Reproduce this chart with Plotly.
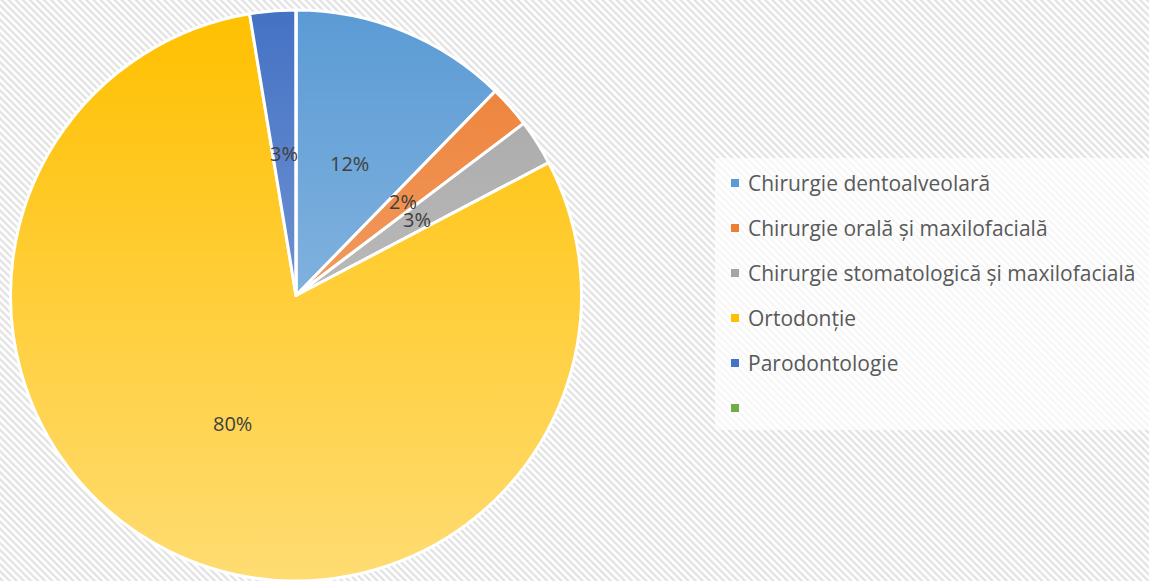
import base64
import math
import plotly.graph_objects as go

# ---- data ----
categories = [
    "Chirurgie dentoalveolară",
    "Chirurgie orală și maxilofacială",
    "Chirurgie stomatologică și maxilofacială",
    "Ortodonție",
    "Parodontologie",
    "",
]
values = [12.3, 2.4, 2.6, 80.1, 2.6, 0.0]
colors = ["#5B9BD5", "#ED7D31", "#A5A5A5", "#FFC000", "#4472C4", "#70AD47"]

W, H = 1149, 581
# pie box in pixels
px0, px1 = 10, 582
py0, py1 = 10, 581
cx = (px0 + px1) / 2
cy = (py0 + py1) / 2
r = min(px1 - px0, py1 - py0) / 2

FONT = "Open Sans"

def b64svg(svg):
    return "data:image/svg+xml;base64," + base64.b64encode(svg.encode("utf-8")).decode()

bg_svg = f"""<svg xmlns='http://www.w3.org/2000/svg' width='{W}' height='{H}' viewBox='0 0 {W} {H}'>
<defs><pattern id='p' width='5' height='5' patternUnits='userSpaceOnUse' patternTransform='rotate(-45)'>
<rect width='5' height='5' fill='#ffffff'/><rect width='2.3' height='5' fill='#e2e2e2'/></pattern></defs>
<rect width='{W}' height='{H}' fill='url(#p)'/></svg>"""

grad_svg = f"""<svg xmlns='http://www.w3.org/2000/svg' width='{W}' height='{H}' viewBox='0 0 {W} {H}'>
<defs><linearGradient id='g' gradientUnits='userSpaceOnUse' x1='0' y1='{cy - r}' x2='0' y2='{cy + r}'>
<stop offset='0' stop-color='#ffffff' stop-opacity='0'/><stop offset='1' stop-color='#ffffff' stop-opacity='0.45'/>
</linearGradient></defs>
<circle cx='{cx}' cy='{cy}' r='{r}' fill='url(#g)'/></svg>"""

fig = go.Figure(
    go.Pie(
        labels=categories,
        values=values,
        sort=False,
        direction="clockwise",
        rotation=0,
        marker=dict(colors=colors, line=dict(color="#ffffff", width=3)),
        textinfo="none",
        showlegend=False,
        hoverinfo="label+percent",
        domain=dict(x=[px0 / W, px1 / W], y=[1 - py1 / H, 1 - py0 / H]),
    )
)

# percentage labels at half radius along each slice bisector (like Excel)
total = sum(values)
cum = 0.0
annotations = []
for v in values:
    if v <= 0:
        continue
    mid = (cum + v / 2) / total * 2 * math.pi
    cum += v
    lx = cx + 0.5 * r * math.sin(mid)
    ly = cy - 0.5 * r * math.cos(mid)
    annotations.append(dict(
        x=lx / W, y=1 - ly / H, xref="paper", yref="paper",
        text=f"{round(v / total * 100):.0f}%", showarrow=False,
        font=dict(family=FONT, size=20, color="#404040"),
        xanchor="center", yanchor="middle",
    ))

# legend
shapes = [dict(type="rect", xref="paper", yref="paper",
               x0=715 / W, x1=1149 / W, y0=1 - 430 / H, y1=1 - 158 / H,
               fillcolor="rgba(255,255,255,0.7)", line=dict(width=0), layer="below")]
ly0, dy = 183, 45
for i, (lab, col) in enumerate(zip(categories, colors)):
    yy = ly0 + i * dy
    shapes.append(dict(type="rect", xref="paper", yref="paper",
                       x0=731 / W, x1=739 / W, y0=1 - (yy + 4) / H, y1=1 - (yy - 4) / H,
                       fillcolor=col, line=dict(width=0)))
    annotations.append(dict(
        x=746 / W, y=1 - yy / H, xref="paper", yref="paper", text=lab,
        showarrow=False, xanchor="left", yanchor="middle",
        font=dict(family=FONT, size=21, color="#595959"),
    ))

fig.update_layout(
    width=W, height=H,
    margin=dict(l=0, r=0, t=0, b=0),
    paper_bgcolor="#ffffff",
    plot_bgcolor="#ffffff",
    images=[
        dict(source=b64svg(bg_svg), xref="paper", yref="paper", x=0, y=1, sizex=1, sizey=1,
             xanchor="left", yanchor="top", sizing="stretch", layer="below"),
        dict(source=b64svg(grad_svg), xref="paper", yref="paper", x=0, y=1, sizex=1, sizey=1,
             xanchor="left", yanchor="top", sizing="stretch", layer="above"),
    ],
    shapes=shapes,
    annotations=annotations,
)

fig.write_html(
    "out.html",
    config={"displayModeBar": False},
    post_script="document.body.style.margin='0';document.body.style.overflow='hidden';",
)
